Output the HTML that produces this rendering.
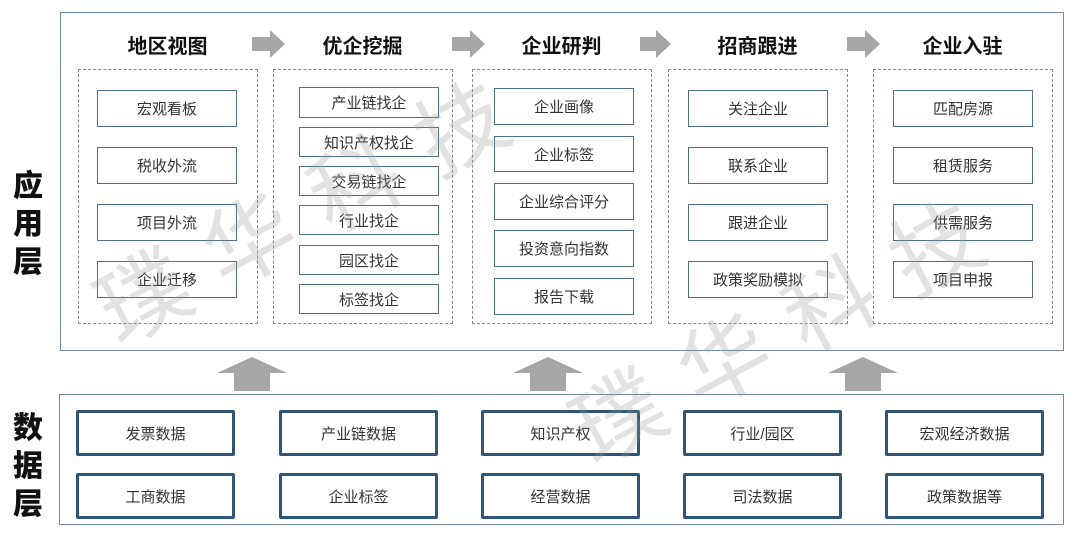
<!DOCTYPE html>
<html><head><meta charset="utf-8"><style>
body{margin:0;width:1080px;height:539px;background:#fff;position:relative;overflow:hidden;font-family:"Liberation Sans","Noto Sans CJK SC",sans-serif;color:#222}
.a{position:absolute;box-sizing:border-box}
.outer{border:1.5px solid #6f8a9c}
.dash{border:1.5px dashed #7f8c96}
.ib{border:1.5px solid #4f6f86;display:flex;align-items:center;justify-content:center;font-size:15px;color:#333}
.db{border:3px solid #2f5677;display:flex;align-items:center;justify-content:center;font-size:15px;color:#333;border-radius:2px}
.t{font-size:20px;font-weight:bold;text-align:center;color:#111}
.side{font-size:30px;font-weight:900;line-height:38px;width:40px;text-align:center;color:#111}
.wm{position:absolute;font-size:90px;color:rgba(150,150,150,0.28);white-space:nowrap;letter-spacing:30px}
</style></head><body>
<div class="a outer" style="left:60px;top:12px;width:1004px;height:339px"></div>
<div class="a outer" style="left:59px;top:394px;width:1005px;height:131px"></div>
<div class="a side" style="left:8px;top:168px">应<br>用<br>层</div>
<div class="a side" style="left:8px;top:410px">数<br>据<br>层</div>

<div class="a t" style="left:78px;top:30px;width:179px">地区视图</div>
<div class="a t" style="left:273px;top:30px;width:179px">优企挖掘</div>
<div class="a t" style="left:472px;top:30px;width:179px">企业研判</div>
<div class="a t" style="left:668px;top:30px;width:179px">招商跟进</div>
<div class="a t" style="left:873px;top:30px;width:179px">企业入驻</div>

<svg class="a" style="left:0;top:0" width="1080" height="539">
<g fill="#a6a6a6">
<polygon points="252,37 270,37 270,30 285,44 270,58 270,51 252,51"/>
<polygon points="452,37 470,37 470,30 485,44 470,58 470,51 452,51"/>
<polygon points="640,37 656,37 656,30 671,44 656,58 656,51 640,51"/>
<polygon points="847,37 865,37 865,30 880,44 865,58 865,51 847,51"/>
<polygon points="217,373 252,357 287,373 270,373 270,391 234,391 234,373"/>
<polygon points="513,373 548,357 583,373 566,373 566,391 530,391 530,373"/>
<polygon points="828,373 863,357 898,373 881,373 881,391 845,391 845,373"/>
</g></svg>

<div class="a dash" style="left:78px;top:69px;width:180px;height:255px"></div>
<div class="a dash" style="left:273px;top:69px;width:180px;height:255px"></div>
<div class="a dash" style="left:472px;top:69px;width:180px;height:255px"></div>
<div class="a dash" style="left:668px;top:69px;width:180px;height:255px"></div>
<div class="a dash" style="left:873px;top:69px;width:180px;height:255px"></div>

<div class="a ib" style="left:97px;top:90px;width:140px;height:37px">宏观看板</div>
<div class="a ib" style="left:97px;top:147px;width:140px;height:37px">税收外流</div>
<div class="a ib" style="left:97px;top:204px;width:140px;height:37px">项目外流</div>
<div class="a ib" style="left:97px;top:261px;width:140px;height:37px">企业迁移</div>

<div class="a ib" style="left:299px;top:87px;width:140px;height:31px">产业链找企</div>
<div class="a ib" style="left:299px;top:127px;width:140px;height:30px">知识产权找企</div>
<div class="a ib" style="left:299px;top:166px;width:140px;height:30px">交易链找企</div>
<div class="a ib" style="left:299px;top:205px;width:140px;height:30px">行业找企</div>
<div class="a ib" style="left:299px;top:245px;width:140px;height:30px">园区找企</div>
<div class="a ib" style="left:299px;top:284px;width:140px;height:30px">标签找企</div>

<div class="a ib" style="left:494px;top:88px;width:140px;height:37px">企业画像</div>
<div class="a ib" style="left:494px;top:136px;width:140px;height:36px">企业标签</div>
<div class="a ib" style="left:494px;top:183px;width:140px;height:37px">企业综合评分</div>
<div class="a ib" style="left:494px;top:230px;width:140px;height:37px">投资意向指数</div>
<div class="a ib" style="left:494px;top:278px;width:140px;height:37px">报告下载</div>

<div class="a ib" style="left:688px;top:90px;width:140px;height:37px">关注企业</div>
<div class="a ib" style="left:688px;top:147px;width:140px;height:37px">联系企业</div>
<div class="a ib" style="left:688px;top:204px;width:140px;height:37px">跟进企业</div>
<div class="a ib" style="left:688px;top:261px;width:140px;height:37px">政策奖励模拟</div>

<div class="a ib" style="left:893px;top:90px;width:140px;height:37px">匹配房源</div>
<div class="a ib" style="left:893px;top:147px;width:140px;height:37px">租赁服务</div>
<div class="a ib" style="left:893px;top:204px;width:140px;height:37px">供需服务</div>
<div class="a ib" style="left:893px;top:261px;width:140px;height:37px">项目申报</div>

<div class="a db" style="left:76px;top:410px;width:159px;height:46px">发票数据</div>
<div class="a db" style="left:279px;top:410px;width:159px;height:46px">产业链数据</div>
<div class="a db" style="left:481px;top:410px;width:159px;height:46px">知识产权</div>
<div class="a db" style="left:683px;top:410px;width:159px;height:46px">行业/园区</div>
<div class="a db" style="left:885px;top:410px;width:159px;height:46px">宏观经济数据</div>
<div class="a db" style="left:76px;top:473px;width:159px;height:46px">工商数据</div>
<div class="a db" style="left:279px;top:473px;width:159px;height:46px">企业标签</div>
<div class="a db" style="left:481px;top:473px;width:159px;height:46px">经营数据</div>
<div class="a db" style="left:683px;top:473px;width:159px;height:46px">司法数据</div>
<div class="a db" style="left:885px;top:473px;width:159px;height:46px">政策数据等</div>

<div class="wm" style="left:70px;top:255px;transform:rotate(-28deg);transform-origin:left top">璞华科技</div>
<div class="wm" style="left:545px;top:375px;transform:rotate(-28deg);transform-origin:left top">璞华科技</div>
</body></html>
